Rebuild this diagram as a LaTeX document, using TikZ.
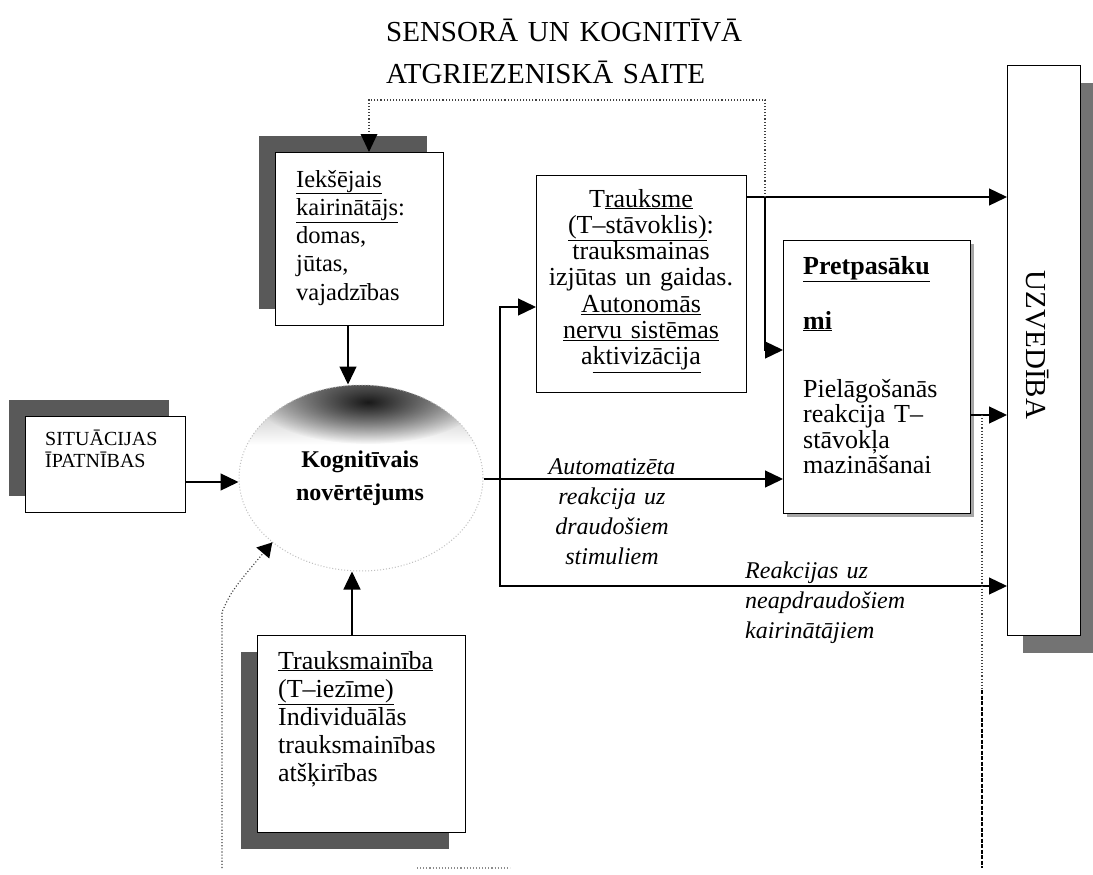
\documentclass[tikz,border=0pt]{standalone}
\usepackage{fontspec}
\setmainfont{Liberation Serif}
\usetikzlibrary{arrows.meta,shapes.geometric,shadows,fadings}
\tikzfading[name=blobfade, inner color=transparent!0, outer color=transparent!100]
\begin{document}
\begin{tikzpicture}[x=1pt,y=-1pt,
  box/.style={draw, line width=1.3pt, fill=white, rectangle, inner sep=0pt, anchor=north west},
  arr/.style={line width=1.3pt, -{Triangle[length=18pt,width=17pt]}},
  fbl/.style={line width=1.1pt, dotted, black!75},
  txt/.style={inner sep=0pt, align=left, anchor=base west},
  ctxt/.style={inner sep=0pt, align=center, anchor=base},
  shadowUL/.style={drop shadow={shadow xshift=-17pt, shadow yshift=17pt, fill=black!65, opacity=1}},
  shadowDL/.style={drop shadow={shadow xshift=-17pt, shadow yshift=-16pt, fill=black!65, opacity=1}},
  shadowDR/.style={drop shadow={shadow xshift=15pt, shadow yshift=-17pt, fill=black!55, opacity=1}},
  shadowThin/.style={drop shadow={shadow xshift=3pt, shadow yshift=-3pt, fill=black!35, opacity=1}}]
\useasboundingbox (0,0) rectangle (1093,875);
\fill[white] (0,0) rectangle (1093,875);

% title
\node[txt, text width=420pt, font=\fontsize{29}{42}\selectfont] (title) at (386,42)
  {SENSORĀ UN KOGNITĪVĀ\\ATGRIEZENISKĀ SAITE};

% cognitive appraisal (shaded ellipse)
\begin{scope}
  \clip (361,478) ellipse [x radius=122, y radius=93];
  \shade[top color=black!35, bottom color=white] (239,385) rectangle (483,445);
  \fill[black!90, path fading=blobfade] (368,402) ellipse [x radius=110, y radius=42];
\end{scope}
\node[ellipse, draw=black!25, dotted, line width=1pt, minimum width=244pt, minimum height=186pt, inner sep=0pt] (kog) at (361,478) {};
\node[ctxt, text width=170pt, font=\bfseries\fontsize{24}{33}\selectfont] (kogt) at (360,467)
  {Kognitīvais\\novērtējums};

% boxes
\node[box, shadowUL, minimum width=168pt, minimum height=173pt] (iek) at (275,152) {};
\node[txt, text width=145pt, font=\fontsize{24.5}{28.3}\selectfont] (iekt) at (296,187)
  {\underline{Iekšējais}\\\underline{kairinātājs}:\\domas,\\jūtas,\\vajadzības};

\node[box, shadowUL, minimum width=160pt, minimum height=96pt] (sit) at (25,416) {};
\node[txt, text width=140pt, font=\fontsize{20}{22}\selectfont] (sitt) at (45,445)
  {SITUĀCIJAS\\ĪPATNĪBAS};

\node[box, shadowDL, minimum width=208pt, minimum height=197pt] (trm) at (257,635) {};
\node[txt, text width=185pt, font=\fontsize{26}{28}\selectfont] (trmt) at (278,669)
  {\underline{Trauksmainība}\\\underline{(T–iezīme)}\\Individuālās\\trauksmainības\\atšķirības};

\node[box, minimum width=210pt, minimum height=217pt] (tbox) at (536,175) {};
\node[ctxt, text width=208pt, font=\fontsize{26}{26.3}\selectfont] (tboxt) at (641,207)
  {T\underline{rauksme}\\\underline{(T–stāvoklis)}:\\trauksmainas\\izjūtas un gaidas.\\\underline{Autonomās}\\\underline{nervu sistēmas}\\a\underline{ktivizācija}};

\node[box, shadowThin, minimum width=187pt, minimum height=273pt] (pret) at (783,240) {};
\node[txt, text width=165pt, font=\bfseries\fontsize{26}{55}\selectfont] (prett1) at (803,274)
  {\underline{Pretpasāku}\\\underline{mi}};
\node[txt, text width=165pt, font=\fontsize{26}{25.5}\selectfont] (prett2) at (803,397)
  {Pielāgošanās\\reakcija T–\\stāvokļa\\mazināšanai};

\node[box, shadowDR, minimum width=73pt, minimum height=570pt] (uzv) at (1007,65) {};
\node[inner sep=0pt, rotate=-90, font=\fontsize{29}{29}\selectfont] (uzvt) at (1037,345) {UZVEDĪBA};

% italic labels
\node[ctxt, text width=190pt, font=\itshape\fontsize{24}{30}\selectfont] (autot) at (612,474)
  {Automatizēta\\reakcija uz\\draudošiem\\stimuliem};
\node[txt, text width=220pt, font=\itshape\fontsize{24}{30}\selectfont] (neapt) at (745,578)
  {Reakcijas uz\\neapdraudošiem\\kairinātājiem};

% junction coordinates
\coordinate (j1) at (500,479);
\coordinate (j2) at (765,197);
\coordinate (fbtop) at (765,100);
\coordinate (lb) at (222,868);
\coordinate (lbk) at (222,612);
\coordinate (d1) at (982,415);
\coordinate (d2) at (982,690);
\coordinate (d3) at (982,868);
\coordinate (bf1) at (417,868);
\coordinate (bf2) at (510,868);

% connectors
\draw[arr] (sit.east |- 0,482) -- (kog.west |- 0,482);
\draw[arr] (iek.south -| 348,0) -- (kog.north -| 348,0);
\draw[arr] (trm.north -| 352,0) -- (kog.south -| 352,0);
\draw[arr] (kog.east |- 0,479) -- (pret.west |- 0,479);
\draw[arr] (j1) |- (tbox.west |- 0,307);
\draw[arr] (j1) |- (uzv.west |- 0,586);
\draw[arr] (tbox.east |- 0,197) -- (uzv.west |- 0,197);
\draw[arr] (j2) |- (pret.west |- 0,350);
\draw[arr] (pret.east |- 0,415) -- (uzv.west |- 0,415);

% feedback (dotted)
\draw[fbl] (j2) -- (fbtop) -| (iek.north -| 369,0);
\fill (iek.north -| 369,0) -- ++(-8.5,-18) -- ++(17,0) -- cycle;
\draw[fbl] (lb) -- (lbk) .. controls (232,590) .. (kog.216);
\fill (kog.216) -- ++(-3,16) -- ++(-13,-11) -- cycle;
\draw[fbl] (d1) -- (d2);
\draw[line width=2.2pt, dash pattern=on 4pt off 1.5pt] (d2) -- (d3);
\draw[fbl, black!45] (bf1) -- (bf2);
\end{tikzpicture}
\end{document}
